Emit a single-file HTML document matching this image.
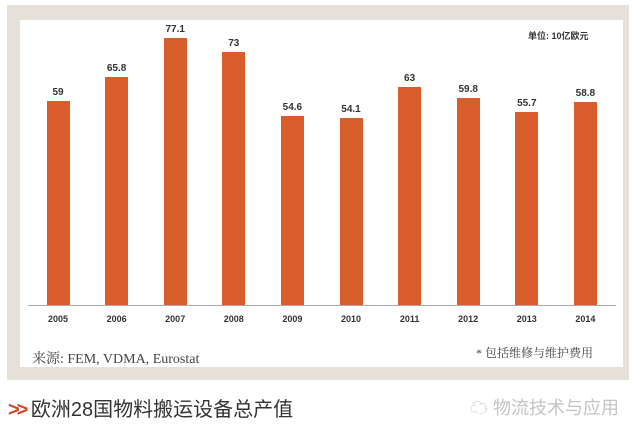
<!DOCTYPE html>
<html><head><meta charset="utf-8"><style>
body{margin:0;width:640px;height:430px;background:#fff;position:relative;overflow:hidden;font-family:"Liberation Sans","Noto Sans CJK SC",sans-serif}
.outer{position:absolute;left:7px;top:5px;width:622px;height:375px;background:#e5e0d8}
.inner{position:absolute;left:20px;top:20px;width:603px;height:347px;background:#fff}
.bar{position:absolute;width:23px;background:#d95d2b}
.v{position:absolute;width:50px;text-align:center;font-size:10px;font-weight:bold;color:#333}
.y{position:absolute;top:314px;width:50px;text-align:center;font-size:9px;font-weight:bold;color:#333}
</style></head><body>
<div class="outer"></div><div class="inner"></div>
<div style="position:absolute;left:528px;top:29px;font-size:9px;font-weight:bold;color:#333">单位: 10亿欧元</div>
<div style="position:absolute;left:28px;top:305px;width:588px;height:1px;background:#aaa"></div>
<div id="c"></div>
<div style="position:absolute;left:32px;top:348px;font-size:14px;color:#444;font-family:'Liberation Serif','Noto Serif CJK SC',serif">来源: FEM, VDMA, Eurostat</div>
<div style="position:absolute;left:476px;top:344px;font-size:12px;color:#444;font-family:'Liberation Serif','Noto Serif CJK SC',serif">* 包括维修与维护费用</div>
<div style="position:absolute;left:8px;top:393px;font-size:20px;color:#333"><span style="color:#d8462b;font-weight:bold;letter-spacing:-3px">&gt;&gt;</span> 欧洲28国物料搬运设备总产值</div>
<div style="position:absolute;left:470px;top:394px;font-size:18px;color:#c4c4c4">☁ 物流技术与应用</div>
<script>
var d=[59,65.8,77.1,73,54.6,54.1,63,59.8,55.7,58.8],h='';
for(var i=0;i<10;i++){var cx=58+i*58.6,t=305-d[i]*3.46;
h+='<div class="bar" style="left:'+(cx-11.5)+'px;top:'+t+'px;height:'+(305-t)+'px"></div>';
h+='<div class="v" style="left:'+(cx-25)+'px;top:'+(t-14)+'px">'+d[i]+'</div>';
h+='<div class="y" style="left:'+(cx-25)+'px">'+(2005+i)+'</div>';}
document.getElementById('c').innerHTML=h;
</script>
</body></html>
